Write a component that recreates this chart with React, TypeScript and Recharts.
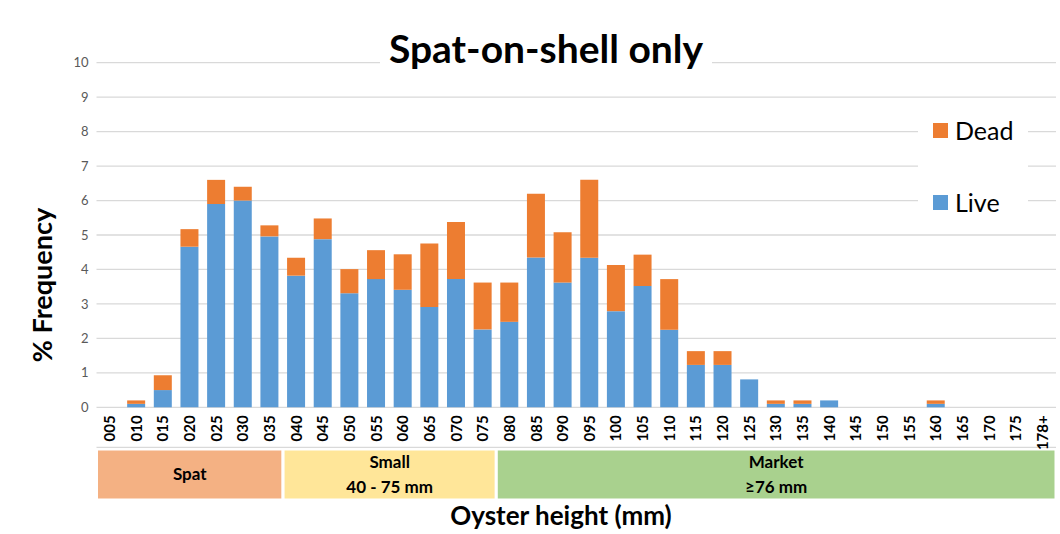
import React from "react";
import {
  BarChart,
  Bar,
  XAxis,
  YAxis,
  CartesianGrid,
  ReferenceArea,
} from "recharts";

const categories = [
  "005", "010", "015", "020", "025", "030", "035", "040", "045", "050", "055", "060",
  "065", "070", "075", "080", "085", "090", "095", "100", "105", "110", "115", "120",
  "125", "130", "135", "140", "145", "150", "155", "160", "165", "170", "175", "178+",
];

const live = [
  0, 0.1, 0.5, 4.66, 5.9, 6.0, 4.96, 3.82, 4.88, 3.31, 3.72, 3.41,
  2.91, 3.72, 2.26, 2.48, 4.35, 3.62, 4.34, 2.79, 3.52, 2.25, 1.23, 1.23,
  0.81, 0.1, 0.1, 0.2, 0, 0, 0, 0.1, 0, 0, 0, 0,
];

const dead = [
  0, 0.1, 0.43, 0.51, 0.7, 0.4, 0.32, 0.52, 0.6, 0.7, 0.84, 1.03,
  1.84, 1.66, 1.36, 1.14, 1.85, 1.46, 2.26, 1.34, 0.91, 1.47, 0.4, 0.4,
  0, 0.1, 0.1, 0, 0, 0, 0, 0.1, 0, 0, 0, 0,
];

const yTicks = [0, 1, 2, 3, 4, 5, 6, 7, 8, 9, 10];

// size classes shown under the axis
const bands = [
  { from: "005", to: "035", lines: ["Spat"], color: "#F4B183" },
  { from: "040", to: "075", lines: ["Small", "40 - 75 mm"], color: "#FFE699" },
  { from: "080", to: "178+", lines: ["Market", "≥76 mm"], color: "#A9D18E" },
];

const data = categories.map((c, i) => ({ size: c, Live: live[i], Dead: dead[i] }));

const FONT = "Lato, 'Open Sans', sans-serif";

function SizeTick(props: any) {
  const { x, y, payload } = props;
  return (
    <text
      x={x}
      y={y}
      transform={`rotate(-90, ${x}, ${y})`}
      textAnchor="end"
      dy="0.35em"
      fontFamily={FONT}
      fontWeight={700}
      fontSize={15}
      fill="#000"
    >
      {payload.value}
    </text>
  );
}

function BandLabel(props: any) {
  const { viewBox, lines } = props;
  if (!viewBox) return null;
  const cx = viewBox.x + viewBox.width / 2;
  const cy = viewBox.y + viewBox.height / 2;
  const step = 25;
  const top = cy - ((lines.length - 1) * step) / 2;
  return (
    <text
      textAnchor="middle"
      fontFamily={FONT}
      fontWeight={700}
      fontSize={17}
      fill="#000"
    >
      {lines.map((l: string, i: number) => (
        <tspan key={l} x={cx} y={top + i * step} dy="0.35em">
          {l}
        </tspan>
      ))}
    </text>
  );
}

export default function App() {
  return (
    <div
      style={{
        position: "absolute",
        left: 0,
        top: 0,
        width: 1060,
        height: 534,
        background: "#fff",
        fontFamily: FONT,
      }}
    >
      <BarChart
        width={1060}
        height={534}
        data={data}
        margin={{ top: 62.7, right: 4, bottom: 78.7, left: 0 }}
      >
        <CartesianGrid vertical={false} stroke="#d9d9d9" strokeWidth={1.3} />
        <XAxis
          xAxisId="b"
          type="number"
          domain={[0, 36]}
          ticks={Array.from({ length: 37 }, (_, i) => i)}
          tick={false}
          tickSize={7}
          height={8}
          stroke="#d9d9d9"
          strokeWidth={1.3}
        />
        <XAxis
          dataKey="size"
          interval={0}
          tickLine={false}
          axisLine={false}
          tick={<SizeTick />}
          height={40}
        />
        <YAxis
          width={96.5}
          domain={[0, 10]}
          ticks={yTicks}
          interval={0}
          tickLine={false}
          axisLine={false}
          tick={{ fill: "#595959", fontSize: 13, fontFamily: FONT }}
        />
        {bands.map((b) => (
          <ReferenceArea
            key={b.from}
            x1={b.from}
            x2={b.to}
            y1={-1.21}
            y2={-2.69}
            ifOverflow="visible"
            fill={b.color}
            fillOpacity={1}
            stroke="#fff"
            strokeWidth={3}
            label={<BandLabel lines={b.lines} />}
          />
        ))}
        <Bar dataKey="Live" stackId="s" fill="#5B9BD5" barSize={18} isAnimationActive={false} />
        <Bar dataKey="Dead" stackId="s" fill="#ED7D31" barSize={18} isAnimationActive={false} />
      </BarChart>

      <div
        style={{
          position: "absolute",
          left: 380,
          top: 26,
          width: 332,
          height: 44,
          background: "#fff",
          textAlign: "center",
          fontWeight: 700,
          fontSize: 39,
          lineHeight: "44px",
          color: "#000",
        }}
      >
        Spat-on-shell only
      </div>

      <div
        style={{
          position: "absolute",
          left: 918,
          top: 108,
          width: 110,
          height: 118,
          background: "#fff",
          fontSize: 25,
          color: "#000",
        }}
      >
        <div style={{ position: "absolute", left: 15, top: 7, display: "flex", alignItems: "center" }}>
          <span style={{ width: 15, height: 15, background: "#ED7D31", marginRight: 7 }} />
          Dead
        </div>
        <div style={{ position: "absolute", left: 15, top: 79, display: "flex", alignItems: "center" }}>
          <span style={{ width: 15, height: 15, background: "#5B9BD5", marginRight: 7 }} />
          Live
        </div>
      </div>

      <div
        style={{
          position: "absolute",
          left: 20,
          top: 285,
          width: 200,
          marginLeft: -100 + 22,
          marginTop: -15,
          height: 30,
          lineHeight: "30px",
          textAlign: "center",
          transform: "rotate(-90deg)",
          fontWeight: 700,
          fontSize: 27,
          color: "#000",
        }}
      >
        % Frequency
      </div>

      <div
        style={{
          position: "absolute",
          left: 411,
          top: 500,
          width: 300,
          height: 30,
          lineHeight: "30px",
          textAlign: "center",
          fontWeight: 700,
          fontSize: 26,
          color: "#000",
        }}
      >
        Oyster height (mm)
      </div>
    </div>
  );
}
